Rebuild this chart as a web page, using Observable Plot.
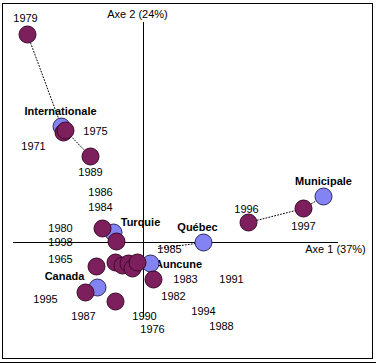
<!DOCTYPE html>
<html>
<head>
<meta charset="utf-8">
<script src="https://cdn.jsdelivr.net/npm/d3@7"></script>
<script src="https://cdn.jsdelivr.net/npm/@observablehq/plot@0.6"></script>
<style>
  html, body { margin: 0; padding: 0; background: #fff; }
  #chart svg { display: block; }
</style>
</head>
<body>
<div id="chart"></div>
<script>
// Variable categories (blue)
const catNames = ["Internationale", "Turquie", "Auncune", "Canada", "Québec", "Municipale"];
const catX = [-0.82, -0.30, 0.07, -0.46, 0.60, 1.80];
const catY = [1.16, 0.10, -0.21, -0.45, 0.00, 0.46];

// Years (maroon)
const yearNames = ["1979", "1971", "1975", "1989", "1980", "1998", "1965", "1995", "1987", "1982",
                   "1996", "1997", "1986", "1984", "1983", "1990", "1976"];
const yearX = [-1.16, -0.80, -0.78, -0.53, -0.41, -0.27, -0.47, -0.58, -0.28, 0.10,
               1.05, 1.60, -0.28, -0.21, -0.15, -0.11, -0.06];
const yearY = [2.08, 1.10, 1.12, 0.86, 0.14, 0.01, -0.24, -0.50, -0.59, -0.37,
               0.20, 0.34, -0.20, -0.23, -0.21, -0.26, -0.20];

// Text labels (position of label in axis units)
const labelText = ["1979", "Internationale", "1975", "1971", "1989", "1986", "1984", "Turquie", "1980",
                   "1998", "1985", "Québec", "1965", "Auncune", "Canada", "1983", "1991", "1982",
                   "1995", "1994", "1987", "1990", "1988", "1976", "1997", "1996", "Municipale"];
const labelX = [-1.18, -0.83, -0.48, -1.10, -0.53, -0.43, -0.43, -0.03, -0.83,
                -0.83, 0.26, 0.54, -0.83, 0.35, -0.79, 0.42, 0.88, 0.30,
                -0.98, 0.60, -0.60, 0.01, 0.78, 0.09, 1.60, 1.03, 1.80];
const labelY = [2.24, 1.31, 1.11, 0.96, 0.70, 0.50, 0.35, 0.20, 0.14,
                0.00, -0.065, 0.15, -0.17, -0.22, -0.34, -0.37, -0.37, -0.54,
                -0.57, -0.69, -0.74, -0.74, -0.84, -0.87, 0.16, 0.33, 0.61];
const labelBold = [false, true, false, false, false, false, false, true, false,
                   false, false, true, false, true, true, false, false, false,
                   false, false, false, false, false, false, false, false, true];

// Axis titles
const axisTitles = ["Axe 2 (24%)", "Axe 1 (37%)"];
const axisTitleX = [-0.06, 1.92];
const axisTitleY = [2.28, -0.07];

// Axis extents
const axis1Extent = [-1.30, 1.95];
const axis2Extent = [-0.76, 2.20];

// Dotted trajectories
const pathGroups = ["a", "a", "a", "b", "b", "b", "c", "c"];
const pathX = [-1.16, -0.82, -0.53, 1.05, 1.60, 1.80, 0.15, 0.60];
const pathY = [2.08, 1.16, 0.86, 0.20, 0.34, 0.46, -0.06, 0.00];

const cats = catNames.map((n, i) => ({name: n, x: catX[i], y: catY[i]}));
const years = yearNames.map((n, i) => ({name: n, x: yearX[i], y: yearY[i]}));
const labels = labelText.map((t, i) => ({t, x: labelX[i], y: labelY[i], bold: labelBold[i]}));
const titles = axisTitles.map((t, i) => ({t, x: axisTitleX[i], y: axisTitleY[i]}));
const paths = pathGroups.map((g, i) => ({g, x: pathX[i], y: pathY[i]}));

const chart = Plot.plot({
  width: 376,
  height: 363,
  margin: 0,
  style: {fontFamily: "'Liberation Sans', Arial, sans-serif", background: "#fff"},
  x: {domain: [-1.43, 2.33], axis: null},
  y: {domain: [-1.21, 2.42], axis: null},
  marks: [
    Plot.frame({stroke: "#000", strokeWidth: 1, insetLeft: 2, insetRight: 4, insetTop: 3, insetBottom: 5}),
    Plot.frame({stroke: "#000", strokeWidth: 1, anchor: "bottom", insetBottom: 1}),
    Plot.line(paths, {x: "x", y: "y", z: "g", stroke: "#000", strokeWidth: 1, strokeDasharray: "1,2"}),
    Plot.text(labels.filter(d => !d.bold), {x: "x", y: "y", text: "t", fontSize: 11, fill: "#000"}),
    Plot.text(labels.filter(d => d.bold), {x: "x", y: "y", text: "t", fontSize: 11, fontWeight: "bold", fill: "#000"}),
    Plot.text(titles, {x: "x", y: "y", text: "t", fontSize: 11, fill: "#000"}),
    Plot.ruleY([0], {x1: axis1Extent[0], x2: axis1Extent[1], stroke: "#000", strokeWidth: 1}),
    Plot.ruleX([0], {y1: axis2Extent[0], y2: axis2Extent[1], stroke: "#000", strokeWidth: 1}),
    Plot.dot(cats, {x: "x", y: "y", r: 8.5, fill: "#8383f3", stroke: "#2a2a60", strokeWidth: 1}),
    Plot.dot(years, {x: "x", y: "y", r: 8.5, fill: "#7e1f5d", stroke: "#3a0828", strokeWidth: 1})
  ]
});
document.getElementById("chart").appendChild(chart);
</script>
</body>
</html>
